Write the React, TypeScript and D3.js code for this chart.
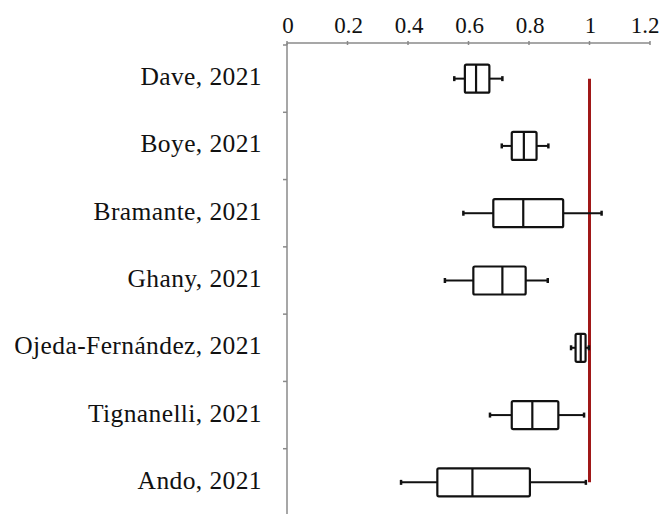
import React from "react";
import * as d3 from "d3";

const studies = [
  "Dave, 2021",
  "Boye, 2021",
  "Bramante, 2021",
  "Ghany, 2021",
  "Ojeda-Fernández, 2021",
  "Tignanelli, 2021",
  "Ando, 2021",
];
const whiskerLow = [0.553, 0.71, 0.583, 0.522, 0.939, 0.671, 0.377];
const q1 = [0.588, 0.743, 0.682, 0.616, 0.954, 0.743, 0.497];
const median = [0.625, 0.783, 0.781, 0.712, 0.971, 0.811, 0.613];
const q3 = [0.669, 0.825, 0.913, 0.789, 0.987, 0.897, 0.803];
const whiskerHigh = [0.712, 0.864, 1.04, 0.862, 0.998, 0.982, 0.988];
const xTicks = [0, 0.2, 0.4, 0.6, 0.8, 1, 1.2];
const referenceValue = 1;

const W = 663;
const H = 514;
const FONT = "Liberation Serif";

export default function App() {
  const x = d3.scaleLinear().domain([0, 1.2]).range([287, 650]);
  const y = d3.scaleBand().domain(studies).range([45, 516]).padding(0);
  const bh = 28;
  const axisY = 43;
  const axisColor = "#8a8a8a";
  const boundaries = studies.map((s) => y(s) as number);

  const first = studies[0];
  const last = studies[studies.length - 1];
  const redTop = (y(first) as number) + y.bandwidth() / 2;
  const redBottom = (y(last) as number) + y.bandwidth() / 2;

  return (
    <svg
      width={W}
      height={H}
      style={{ position: "absolute", left: 0, top: 0, display: "block", background: "#fff" }}
    >
      {/* x axis */}
      <line x1={x(0)} x2={x(1.2)} y1={axisY} y2={axisY} stroke={axisColor} strokeWidth={1.5} />
      {xTicks.map((t, i) => (
        <g key={t}>
          <line x1={x(t)} x2={x(t)} y1={axisY - 2} y2={axisY + 2} stroke={axisColor} strokeWidth={1.5} />
          <text
            x={i === xTicks.length - 1 ? Math.min(x(t), 645) : x(t) + 1}
            y={33}
            textAnchor="middle"
            style={{ fontFamily: FONT }}
            fontSize={23}
            fill="#111"
          >
            {d3.format("~g")(t)}
          </text>
        </g>
      ))}
      {/* y axis */}
      <line x1={x(0)} x2={x(0)} y1={axisY} y2={H} stroke={axisColor} strokeWidth={1.5} />
      {boundaries.map((b, i) => (
        <line key={i} x1={x(0) - 4} x2={x(0)} y1={b} y2={b} stroke={axisColor} strokeWidth={1.5} />
      ))}
      {studies.map((s) => (
        <text
          key={s}
          x={262}
          y={(y(s) as number) + y.bandwidth() / 2 + 6.5}
          textAnchor="end"
          style={{ fontFamily: FONT, letterSpacing: "0.4px" }}
          fontSize={25.5}
          fill="#111"
        >
          {s}
        </text>
      ))}
      {/* reference line */}
      <line
        x1={x(referenceValue)}
        x2={x(referenceValue)}
        y1={redTop}
        y2={redBottom}
        stroke="#a01818"
        strokeWidth={3}
      />
      {/* boxes */}
      {studies.map((s, i) => {
        const cy = (y(s) as number) + y.bandwidth() / 2;
        return (
          <g key={s} stroke="#111" fill="none">
            <line x1={x(whiskerLow[i])} x2={x(q1[i])} y1={cy} y2={cy} strokeWidth={2} />
            <line x1={x(q3[i])} x2={x(whiskerHigh[i])} y1={cy} y2={cy} strokeWidth={2} />
            <line x1={x(whiskerLow[i])} x2={x(whiskerLow[i])} y1={cy - 2.5} y2={cy + 2.5} strokeWidth={2.5} />
            <line x1={x(whiskerHigh[i])} x2={x(whiskerHigh[i])} y1={cy - 2.5} y2={cy + 2.5} strokeWidth={2.5} />
            <rect
              x={x(q1[i])}
              y={cy - bh / 2}
              width={x(q3[i]) - x(q1[i])}
              height={bh}
              rx={1.5}
              fill="#fff"
              strokeWidth={2.2}
            />
            <line x1={x(median[i])} x2={x(median[i])} y1={cy - bh / 2} y2={cy + bh / 2} strokeWidth={2.2} />
          </g>
        );
      })}
    </svg>
  );
}
